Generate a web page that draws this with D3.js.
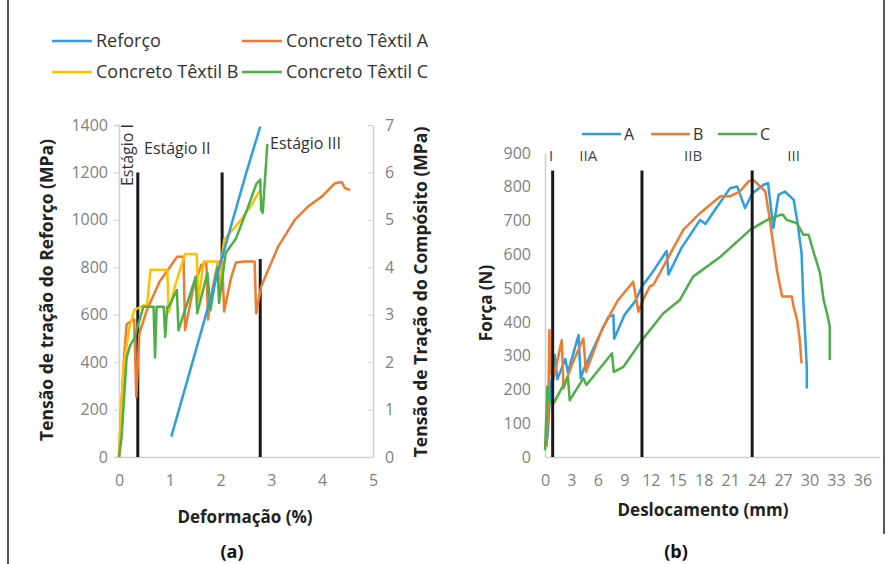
<!DOCTYPE html>
<html>
<head>
<meta charset="utf-8">
<script src="https://cdn.jsdelivr.net/npm/d3@7"></script>
<style>
  body { margin: 0; background: #fff; }
  svg { display: block; font-family: "Open Sans", sans-serif; }
</style>
</head>
<body>
<div id="chart"></div>
<script>
// ---- (a) tension vs strain ----
// Reforço in reinforcement stress (MPa, left axis); textile concretes in composite stress (MPa, right axis)
const reforco = [[1.03, 86], [1.5, 440], [2.0, 820], [2.5, 1195], [2.78, 1393]];
const textilA = [[0, 0], [0.03, 0.75], [0.10, 2.1], [0.15, 2.8], [0.25, 2.87], [0.30, 2.9], [0.34, 1.27],
  [0.40, 2.6], [0.55, 3.1], [0.8, 3.7], [1.0, 4.0], [1.14, 4.22], [1.27, 4.22], [1.30, 2.68], [1.45, 3.5],
  [1.62, 4.05], [1.72, 4.1], [1.75, 2.9], [1.85, 3.6], [1.95, 4.1], [2.03, 4.15], [2.07, 3.07], [2.2, 3.75],
  [2.3, 4.1], [2.47, 4.12], [2.67, 4.12], [2.70, 3.03], [2.8, 3.6], [3.13, 4.43], [3.46, 5.0], [3.72, 5.28],
  [3.99, 5.49], [4.25, 5.77], [4.38, 5.8], [4.45, 5.67], [4.55, 5.63]];
const textilB = [[0, 0], [0.04, 1.0], [0.1, 2.0], [0.2, 2.7], [0.3, 3.1], [0.4, 3.15], [0.5, 3.2], [0.55, 3.17],
  [0.62, 3.95], [0.95, 3.95], [0.98, 3.05], [1.1, 3.6], [1.3, 4.28], [1.53, 4.28], [1.56, 3.3], [1.67, 4.12],
  [1.94, 4.12], [1.97, 3.38], [2.02, 4.15], [2.07, 4.58], [2.4, 5.0], [2.6, 5.3], [2.76, 5.6], [2.8, 5.63]];
const textilC = [[0, 0], [0.05, 0.4], [0.15, 2.1], [0.22, 2.36], [0.3, 2.5], [0.48, 3.17], [0.68, 3.17], [0.71, 2.1],
  [0.74, 3.17], [0.88, 3.17], [0.91, 2.53], [0.95, 3.17], [0.98, 3.17], [1.14, 3.52], [1.17, 2.67], [1.51, 3.8],
  [1.54, 3.03], [1.74, 3.88], [1.8, 3.1], [1.94, 4.0], [1.97, 3.25], [2.1, 4.3], [2.3, 4.6], [2.55, 5.3],
  [2.7, 5.75], [2.78, 5.85], [2.8, 5.2], [2.83, 5.15], [2.92, 6.6]];
// stage limits: [strain, top (MPa reinforcement), bottom]
const estagiosA = [[0.37, 1200, 0], [2.03, 1200, 840], [2.78, 835, 0]];
const ticksA_x = [0, 1, 2, 3, 4, 5];
const ticksA_yL = [0, 200, 400, 600, 800, 1000, 1200, 1400];
const ticksA_yR = [0, 1, 2, 3, 4, 5, 6, 7];

// ---- (b) force vs displacement ----
const forcaA = [[0.0, 40], [0.3, 60], [0.6, 200], [1.1, 302], [1.4, 230], [2.3, 290], [2.6, 250], [3.8, 361],
  [4.05, 233], [4.4, 260], [6.0, 350], [7.2, 415], [7.76, 420], [7.85, 350], [9.0, 420], [10.2, 460], [11.0, 505],
  [12.0, 540], [13.8, 610], [14.0, 540], [15.5, 620], [17.6, 702], [18.2, 690], [19.5, 740], [21.0, 796],
  [21.8, 801], [22.7, 737], [23.5, 780], [24.8, 806], [25.3, 811], [25.9, 678], [26.5, 777], [27.2, 786],
  [28.2, 762], [28.6, 702], [29.1, 604], [29.3, 465], [29.5, 367], [29.7, 262], [29.7, 203]];
const forcaB = [[0.2, 30], [0.4, 200], [0.5, 376], [0.55, 260], [0.94, 228], [1.9, 346], [2.1, 203], [3.0, 270],
  [4.35, 351], [4.65, 252], [6.5, 380], [8.3, 465], [10.0, 519], [10.6, 430], [11.2, 470], [11.9, 505],
  [12.3, 510], [15.7, 673], [17.5, 720], [19.9, 772], [21.0, 772], [22.1, 786], [23.1, 816], [23.6, 821],
  [24.4, 801], [25.0, 786], [25.5, 702], [26.3, 554], [26.9, 475], [28.0, 475], [28.2, 445], [28.6, 406],
  [28.9, 347], [29.1, 277]];
const forcaC = [[0, 20], [0.2, 150], [0.26, 208], [0.4, 170], [0.95, 158], [2.6, 237], [2.8, 168], [4.35, 233],
  [4.7, 213], [7.6, 307], [7.8, 252], [8.9, 267], [11.0, 346], [13.4, 425], [15.3, 465], [16.8, 534],
  [19.9, 593], [23.3, 673], [25.2, 702], [26.7, 717], [27.0, 717], [27.4, 702], [28.6, 692], [29.3, 658],
  [29.9, 658], [30.5, 604], [31.2, 544], [31.6, 465], [32.0, 425], [32.3, 386], [32.3, 287]];
const estagiosB = [[0.87, 848], [11.0, 848], [23.5, 848]];
const rotulosB = [["I", 0.7], ["IIA", 4.9], ["IIB", 16.8], ["III", 28.2]];
const ticksB_x = [0, 3, 6, 9, 12, 15, 18, 21, 24, 27, 30, 33, 36];
const ticksB_y = [0, 100, 200, 300, 400, 500, 600, 700, 800, 900];

const cor = { azul: "#2b9fe2", laranja: "#f07a30", amarelo: "#ffc000", verde: "#4caf48" };
const axisColor = "#cfcfcf", tickText = "#7f7f7f", black = "#1a1a1a";

const svg = d3.select("#chart").append("svg").attr("width", 895).attr("height", 564);
svg.append("rect").attr("width", 895).attr("height", 564).attr("fill", "#fff");
// page frame
svg.append("line").attr("x1", 8).attr("x2", 8).attr("y1", 0).attr("y2", 564)
  .attr("stroke", "#555").attr("stroke-width", 2);
svg.append("line").attr("x1", 884).attr("x2", 884).attr("y1", 0).attr("y2", 534)
  .attr("stroke", "#555").attr("stroke-width", 2);

function path(g, data, x, y, color, w) {
  g.append("path").datum(data)
    .attr("d", d3.line().x(d => x(d[0])).y(d => y(d[1])))
    .attr("fill", "none").attr("stroke", color).attr("stroke-width", w || 2.5)
    .attr("stroke-linejoin", "round");
}

function styleAxis(a) {
  a.select(".domain").attr("stroke", axisColor).attr("stroke-width", 1.5);
  a.selectAll(".tick line").attr("stroke", axisColor);
  a.selectAll("text").attr("fill", tickText).style("font-size", "16px").style("font-family", "Open Sans");
}

// ================= chart (a) =================
const xA = d3.scaleLinear().domain([0, 5]).range([119, 373]);
const yL = d3.scaleLinear().domain([0, 1400]).range([457, 125]);
const yR = d3.scaleLinear().domain([0, 7]).range([457, 125]);
const gA = svg.append("g");

const axA_x = gA.append("g").attr("transform", "translate(0,457)")
  .call(d3.axisBottom(xA).tickValues(ticksA_x).tickSize(0).tickPadding(18).tickFormat(d3.format("d")));
const axA_yL = gA.append("g").attr("transform", "translate(119,0)")
  .call(d3.axisLeft(yL).tickValues(ticksA_yL).tickSize(5).tickPadding(6).tickFormat(d3.format("d")));
const axA_yR = gA.append("g").attr("transform", "translate(373,0)")
  .call(d3.axisRight(yR).tickValues(ticksA_yR).tickSize(0).tickPadding(12).tickFormat(d3.format("d")));
axA_yR.selectAll(".tick").append("line").attr("x1", -5).attr("x2", 0);
[axA_x, axA_yL, axA_yR].forEach(styleAxis);

estagiosA.forEach(s => {
  gA.append("line").attr("x1", xA(s[0])).attr("x2", xA(s[0])).attr("y1", yL(s[1])).attr("y2", yL(s[2]))
    .attr("stroke", black).attr("stroke-width", 3);
});

path(gA, textilA, xA, yR, cor.laranja);
path(gA, textilB, xA, yR, cor.amarelo);
path(gA, textilC, xA, yR, cor.verde);
path(gA, reforco, xA, yL, cor.azul);

gA.append("text").attr("transform", "translate(133,155) rotate(-90)").attr("text-anchor", "middle")
  .style("font-size", "16px").attr("fill", "#333").text("Estágio I");
gA.append("text").attr("x", 144).attr("y", 154).style("font-size", "16px").attr("fill", "#333").text("Estágio II");
gA.append("text").attr("x", 270).attr("y", 149).style("font-size", "16px").attr("fill", "#333").text("Estágio III");

gA.append("text").attr("transform", "translate(53,290) rotate(-90)").attr("text-anchor", "middle")
  .style("font-size", "17.5px").style("font-weight", "bold").attr("fill", "#222").text("Tensão de tração do Reforço (MPa)");
gA.append("text").attr("transform", "translate(427,292) rotate(-90)").attr("text-anchor", "middle")
  .style("font-size", "17.5px").style("font-weight", "bold").attr("fill", "#222").text("Tensão de Tração do Compósito (MPa)");
gA.append("text").attr("x", 245).attr("y", 523).attr("text-anchor", "middle")
  .style("font-size", "17px").style("font-weight", "bold").attr("fill", "#222").text("Deformação (%)");
gA.append("text").attr("x", 232).attr("y", 558).attr("text-anchor", "middle")
  .style("font-size", "18px").style("font-weight", "bold").attr("fill", "#111").text("(a)");

const legA = [["Reforço", cor.azul, 52, 41], ["Concreto Têxtil A", cor.laranja, 242, 41],
  ["Concreto Têxtil B", cor.amarelo, 52, 72], ["Concreto Têxtil C", cor.verde, 242, 72]];
legA.forEach(l => {
  gA.append("line").attr("x1", l[2]).attr("x2", l[2] + 40).attr("y1", l[3]).attr("y2", l[3])
    .attr("stroke", l[1]).attr("stroke-width", 2.5);
  gA.append("text").attr("x", l[2] + 44).attr("y", l[3] + 6).style("font-size", "18px").attr("fill", "#333").text(l[0]);
});

// ================= chart (b) =================
const xB = d3.scaleLinear().domain([0, 38]).range([545, 880]);
const yB = d3.scaleLinear().domain([0, 900]).range([457, 153]);
const gB = svg.append("g");

const axB_x = gB.append("g").attr("transform", "translate(0,457)")
  .call(d3.axisBottom(xB).tickValues(ticksB_x).tickSize(0).tickPadding(18));
const axB_y = gB.append("g").attr("transform", "translate(545,0)")
  .call(d3.axisLeft(yB).tickValues(ticksB_y).tickSize(0).tickPadding(14));
[axB_x, axB_y].forEach(styleAxis);

path(gB, forcaA, xB, yB, cor.azul);
path(gB, forcaB, xB, yB, cor.laranja);
path(gB, forcaC, xB, yB, cor.verde);

estagiosB.forEach(s => {
  gB.append("line").attr("x1", xB(s[0])).attr("x2", xB(s[0])).attr("y1", yB(s[1])).attr("y2", yB(0))
    .attr("stroke", black).attr("stroke-width", 3);
});
rotulosB.forEach(r => {
  gB.append("text").attr("x", xB(r[1])).attr("y", 161).attr("text-anchor", "middle")
    .style("font-size", "15px").attr("fill", "#444").text(r[0]);
});

gB.append("text").attr("transform", "translate(492,303) rotate(-90)").attr("text-anchor", "middle")
  .style("font-size", "17px").style("font-weight", "bold").attr("fill", "#222").text("Força (N)");
gB.append("text").attr("x", 703).attr("y", 516).attr("text-anchor", "middle")
  .style("font-size", "17px").style("font-weight", "bold").attr("fill", "#222").text("Deslocamento (mm)");
gB.append("text").attr("x", 676).attr("y", 558).attr("text-anchor", "middle")
  .style("font-size", "18px").style("font-weight", "bold").attr("fill", "#111").text("(b)");

const legB = [["A", cor.azul, 582], ["B", cor.laranja, 651], ["C", cor.verde, 718]];
legB.forEach(l => {
  gB.append("line").attr("x1", l[2]).attr("x2", l[2] + 39).attr("y1", 134).attr("y2", 134)
    .attr("stroke", l[1]).attr("stroke-width", 2.5);
  gB.append("text").attr("x", l[2] + 42).attr("y", 140).style("font-size", "16px").attr("fill", "#333").text(l[0]);
});
</script>
</body>
</html>
